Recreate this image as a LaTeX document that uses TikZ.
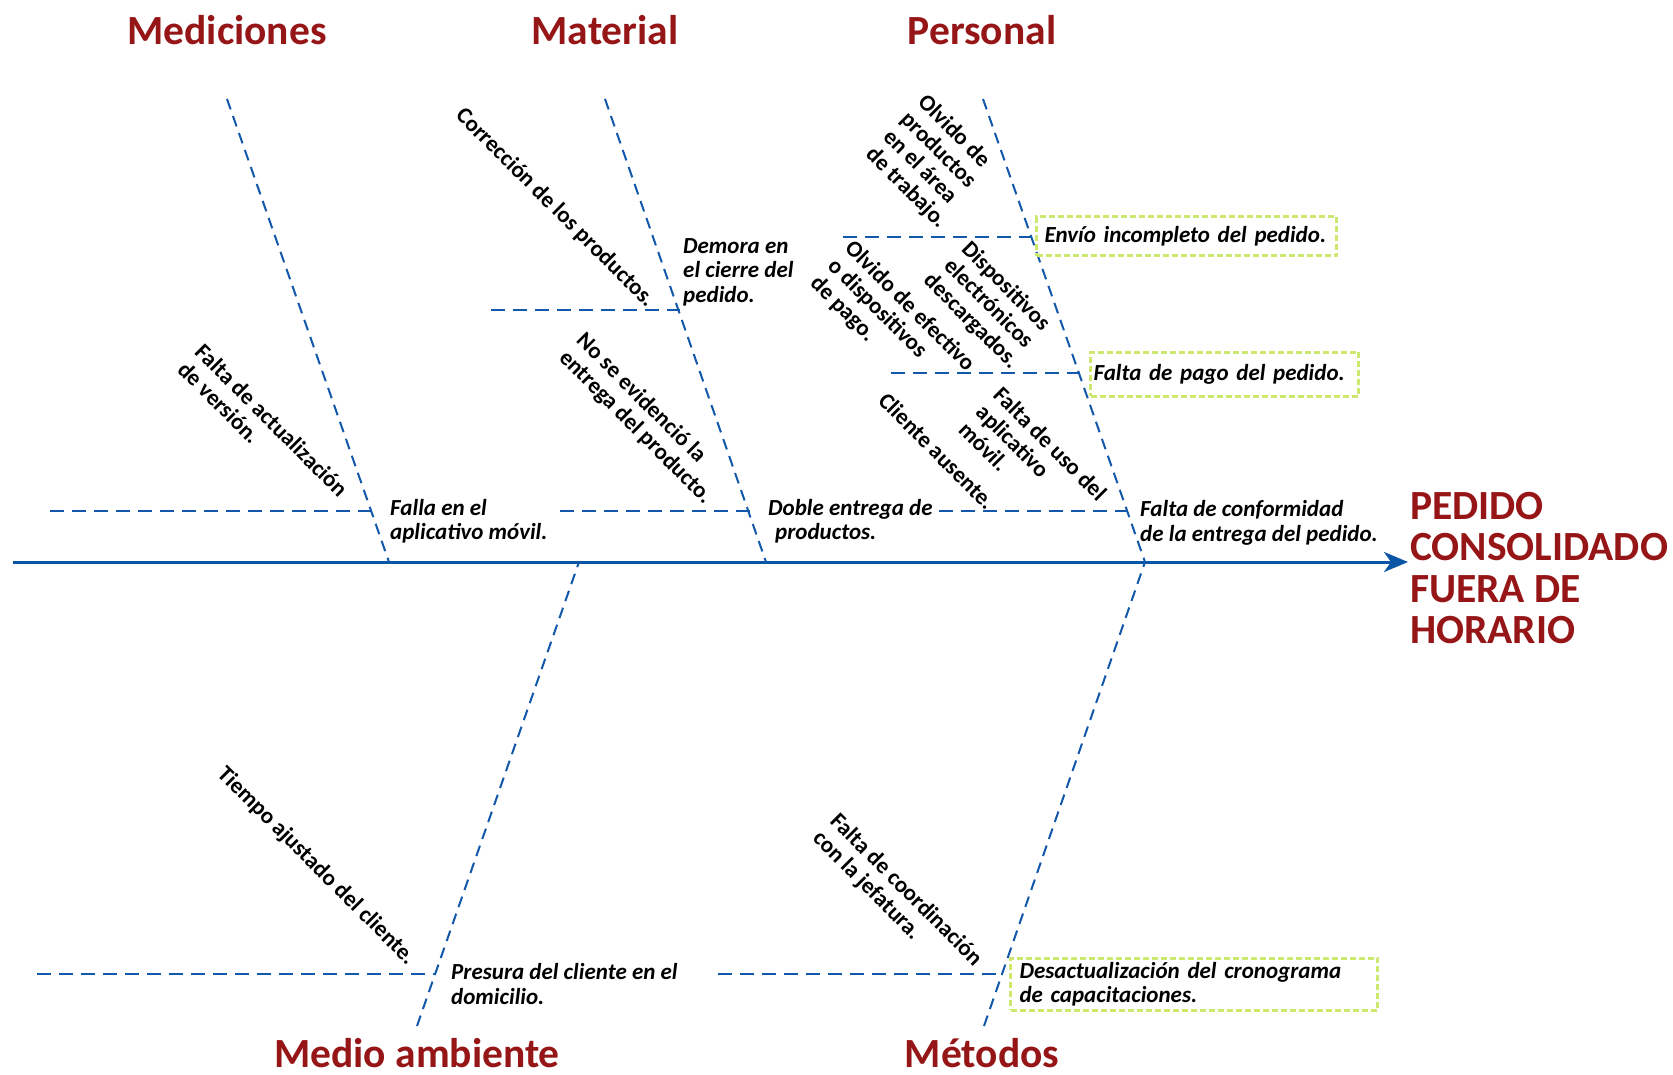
\documentclass[tikz,border=0pt]{standalone}
\usepackage{fontspec}
\setmainfont{Carlito}
\usetikzlibrary{arrows.meta}
\definecolor{bone}{RGB}{18,88,170}
\definecolor{spinec}{RGB}{10,85,165}
\definecolor{headred}{RGB}{150,22,24}
\definecolor{boxgreen}{RGB}{205,232,110}
\begin{document}
\begin{tikzpicture}[x=1pt,y=-1pt,
  bonel/.style={draw=bone, line width=2pt, dash pattern=on 11pt off 7pt},
  subl/.style={draw=bone, line width=2.6pt, dash pattern=on 14pt off 8pt},
  head/.style={text=headred, font=\fontsize{41.5}{41.5}\selectfont\bfseries, inner sep=0pt},
  cause/.style={font=\fontsize{23}{24.5}\selectfont\bfseries\itshape, align=left, inner sep=0pt, anchor=west},
  tilted/.style={font=\fontsize{23}{24.5}\selectfont\bfseries, align=left, inner sep=0pt, rotate=-45},
  gbox/.style={draw=boxgreen, line width=3pt, dash pattern=on 6pt off 3pt,
    font=\fontsize{23}{24.5}\selectfont\bfseries\itshape, align=left, anchor=west, inner ysep=0pt}
]
\fill[white] (0,0) rectangle (1673,1075);
\useasboundingbox (0,0) rectangle (1673,1075);

% spine
\coordinate (sL) at (13,562);
\coordinate (sR) at (1408,562);
\draw[spinec, line width=3pt, -{Stealth[length=24pt,width=20pt,inset=7pt]}] (sL) -- (sR);

% main bones
\coordinate (m1) at (227,99);   \coordinate (m0) at (389,562);
\coordinate (a1) at (605,99);   \coordinate (a0) at (766,562);
\coordinate (p1) at (983,99);   \coordinate (p0) at (1145,562);
\coordinate (e1) at (417,1026); \coordinate (e0) at (579,562);
\coordinate (t1) at (984,1026); \coordinate (t0) at (1145,562);
\draw[bonel] (m1) -- (m0);
\draw[bonel] (a1) -- (a0);
\draw[bonel] (p1) -- (p0);
\draw[bonel] (e1) -- (e0);
\draw[bonel] (t1) -- (t0);

% secondary bones
\coordinate (hm1) at (50,511);  \coordinate (hm2) at (373,511);
\coordinate (ha1) at (560,511); \coordinate (ha2) at (750,511);
\coordinate (hb1) at (491,310); \coordinate (hb2) at (680,310);
\coordinate (hp1) at (939,511); \coordinate (hp2) at (1127,511);
\coordinate (hq1) at (891,373); \coordinate (hq2) at (1080,373);
\coordinate (hr1) at (843,237); \coordinate (hr2) at (1031,237);
\coordinate (he1) at (37,974);  \coordinate (he2) at (434,974);
\coordinate (ht1) at (718,974); \coordinate (ht2) at (1002,974);
\draw[subl] (hm1) -- (hm2);
\draw[subl] (ha1) -- (ha2);
\draw[subl] (hb1) -- (hb2);
\draw[subl] (hp1) -- (hp2);
\draw[subl] (hq1) -- (hq2);
\draw[subl] (hr1) -- (hr2);
\draw[subl] (he1) -- (he2);
\draw[subl] (ht1) -- (ht2);

% category headings
\node[head] (hMed) at (227,30) {Mediciones};
\node[head] (hMat) at (605,30) {Material};
\node[head] (hPer) at (982,30) {Personal};
\node[head] (hAmb) at (417,1053) {Medio ambiente};
\node[head] (hMet) at (982,1053) {Métodos};
\node[head, align=left, anchor=west] (effect) at (1410,568) {PEDIDO\\CONSOLIDADO\\FUERA DE\\HORARIO};

% causes on the bones
\node[cause] (falla) at (390,521) {Falla en el\\aplicativo móvil.};
\node[cause] (demora) at (683,272) {Demora en\\el cierre del\\pedido.};
\node[cause] (doble) at (768,521) {Doble entrega de\\\hspace*{7pt}productos.};
\node[cause] (conf) at (1140,523) {Falta de conformidad\\de la entrega del pedido.};
\node[cause] (presura) at (451,984) {Presura del cliente en el\\domicilio.};
\node[gbox, text width=284pt, inner xsep=8pt, minimum height=39pt] (envio) at (1035,236.5) {Envío incompleto del pedido.};
\node[gbox, text width=262pt, inner xsep=3pt, minimum height=44pt] (pago) at (1089,374) {Falta de pago del pedido.};
\node[gbox, text width=349pt, inner xsep=9pt, minimum height=52pt] (desact) at (1009,984) {Desactualización del cronograma\\de capacitaciones.};

% sub-causes
\node[tilted] (correc) at (555,208) {Corrección de los productos.};
\node[tilted] (olvprod) at (932,162) {Olvido de\\productos\\en el área\\de trabajo.};
\node[tilted, align=center] (disp) at (988,304) {Dispositivos\\electrónicos\\descargados.};
\node[tilted] (olvefec) at (892,324) {Olvido de efectivo\\o dispositivos\\de pago.};
\node[tilted] (usoapp) at (1033,461) {Falta de uso del\\aplicativo\\móvil.};
\node[tilted] (ausente) at (937,451) {Cliente ausente.};
\node[tilted] (noevid) at (644,419) {No se evidenció la\\entrega del producto.};
\node[tilted] (version) at (263,429) {Falta de actualización\\de versión.};
\node[tilted] (tiempo) at (316,866) {Tiempo ajustado del cliente.};
\node[tilted] (coord) at (897,899) {Falta de coordinación\\con la jefatura.};
\end{tikzpicture}
\end{document}
